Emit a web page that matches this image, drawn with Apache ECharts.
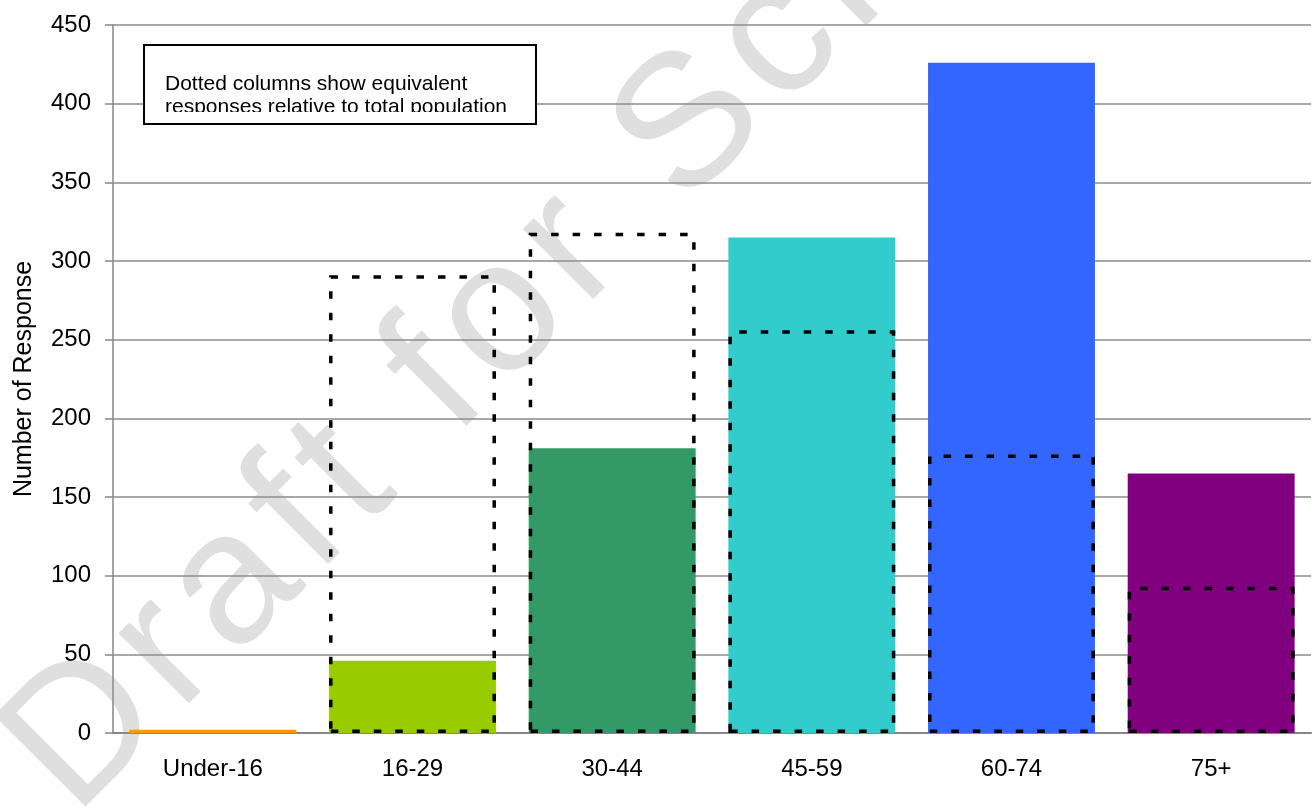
<!DOCTYPE html>
<html>
<head>
<meta charset="utf-8">
<script src="https://cdn.jsdelivr.net/npm/echarts@6/dist/echarts.min.js"></script>
<style>
  html, body { margin: 0; padding: 0; background: #fff; }
  #chart { width: 1316px; height: 808px; }
</style>
</head>
<body>
<div id="chart"></div>
<script>
// Age bands and response counts
const categories = ['Under-16', '16-29', '30-44', '45-59', '60-74', '75+'];
const responses = [2, 46, 181, 315, 426, 165];
// Responses each band would give in proportion to its share of the total population
const populationEquivalent = [null, 291, 318, 256, 177, 93];
const barColors = ['#FF9900', '#99CC00', '#339966', '#33CCCC', '#3366FF', '#800080'];
const yMin = 0, yMax = 450, yInterval = 50;
const yAxisTitle = 'Number of Response';
const noteLines = ['Dotted columns show equivalent', 'responses relative to total population'];
const watermarkText = 'Draft for Scrutiny';

const FONT = '"Liberation Sans", Arial, Helvetica, sans-serif';

// Watermark laid out letter by letter with extra tracking, set along a 45° line
const WM_SIZE = 188, WM_TRACK = 13;
const wmFont = WM_SIZE + 'px ' + FONT;
const measure = document.createElement('canvas').getContext('2d');
measure.font = wmFont;
const wmChildren = [];
let advance = 0;
for (const ch of watermarkText) {
  if (ch !== ' ') {
    wmChildren.push({
      type: 'text', x: advance, y: -0.3465 * WM_SIZE, z: 1, silent: true,
      style: { text: ch, font: wmFont, fill: 'rgba(150,150,150,0.3)',
               align: 'left', verticalAlign: 'middle', textAlign: 'left', textVerticalAlign: 'middle' }
    });
  }
  advance += measure.measureText(ch).width + WM_TRACK;
}

const chart = echarts.init(document.getElementById('chart'), null, { renderer: 'canvas' });

const noteBox = { x: 144, y: 45, w: 392, h: 79 };

chart.setOption({
  animation: false,
  backgroundColor: '#fff',
  textStyle: { fontFamily: FONT },
  grid: { left: 113, right: 5, top: 25, bottom: 75 },
  xAxis: {
    type: 'category',
    data: categories,
    axisLine: { lineStyle: { color: '#868686', width: 2 } },
    axisTick: { length: 7, lineStyle: { color: '#868686', width: 1.5 } },
    axisLabel: { color: '#000', fontSize: 24, fontFamily: FONT, margin: 24 }
  },
  yAxis: {
    type: 'value',
    min: yMin, max: yMax, interval: yInterval,
    name: yAxisTitle,
    nameLocation: 'middle',
    nameGap: 76,
    nameTextStyle: { color: '#000', fontSize: 25, fontFamily: FONT },
    axisLine: { show: true, lineStyle: { color: '#868686', width: 1.5 } },
    axisTick: { show: true, length: 8, lineStyle: { color: '#868686', width: 1.5 } },
    axisLabel: { color: '#000', fontSize: 24, fontFamily: FONT, margin: 22 },
    splitLine: { lineStyle: { color: '#a8a8a8', width: 2 } }
  },
  graphic: [
    { type: 'group', x: 84, y: 827, rotation: Math.PI / 4, z: 1, silent: true, children: wmChildren },
    { type: 'rect', z: 10, silent: true,
      shape: { x: noteBox.x, y: noteBox.y, width: noteBox.w, height: noteBox.h },
      style: { fill: '#fff', stroke: null } },
    { type: 'text', z: 11, silent: true, x: 165, y: 73,
      style: { text: noteLines.join('\n'), font: '21px ' + FONT, fill: '#000', lineHeight: 23,
               align: 'left', verticalAlign: 'top', textAlign: 'left', textVerticalAlign: 'top' } },
    // the text frame cuts the second line short
    { type: 'rect', z: 12, silent: true,
      shape: { x: noteBox.x + 1, y: 112, width: noteBox.w - 2, height: noteBox.y + noteBox.h - 112 },
      style: { fill: '#fff' } },
    { type: 'rect', z: 13, silent: true,
      shape: { x: noteBox.x, y: noteBox.y, width: noteBox.w, height: noteBox.h },
      style: { fill: null, stroke: '#000', lineWidth: 2 } }
  ],
  series: [
    {
      name: 'Responses',
      type: 'bar',
      z: 4,
      barWidth: '83.6%',
      barGap: '-100%',
      data: responses.map((v, i) => ({ value: v, itemStyle: { color: barColors[i] } }))
    },
    {
      name: 'Population equivalent',
      type: 'bar',
      z: 5,
      barWidth: '83.6%',
      barGap: '-100%',
      itemStyle: { color: 'rgba(0,0,0,0)', borderColor: '#000', borderWidth: 3.5, borderType: [7.5, 14] },
      data: populationEquivalent
    }
  ]
});
</script>
</body>
</html>
